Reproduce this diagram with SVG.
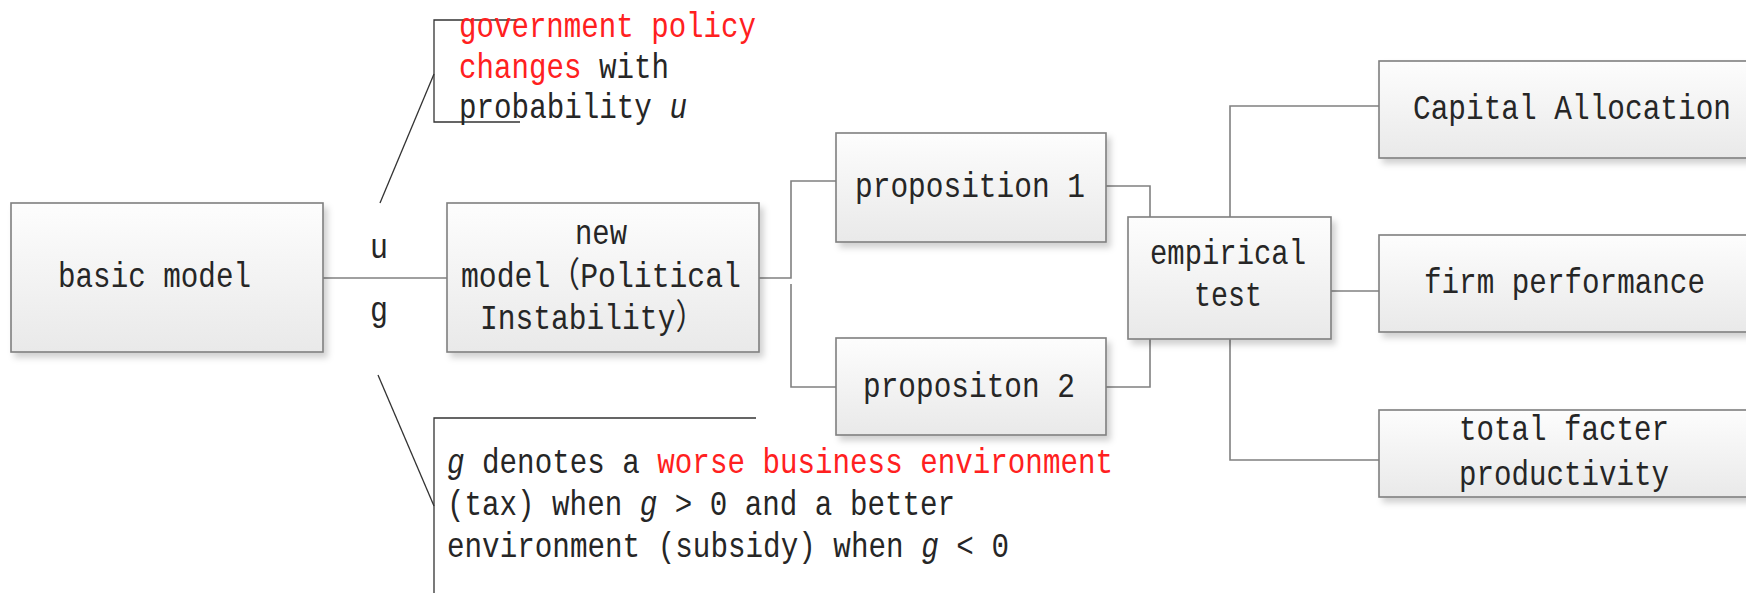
<svg xmlns="http://www.w3.org/2000/svg" width="1746" height="593" viewBox="0 0 1746 593">
<defs>
<linearGradient id="bg" x1="0" y1="0" x2="0" y2="1">
<stop offset="0" stop-color="#fdfdfd"/>
<stop offset="1" stop-color="#e9e9e9"/>
</linearGradient>
<filter id="sh" x="-10%" y="-10%" width="130%" height="140%">
<feDropShadow dx="4" dy="5" stdDeviation="3" flood-color="#000" flood-opacity="0.18"/>
</filter>
</defs>
<style>
.box{fill:url(#bg);stroke:#7f7f7f;stroke-width:1.6;filter:url(#sh)}
.t{font-family:"Liberation Mono","Noto Sans CJK SC",monospace;font-size:35px;fill:#262626}
.c{fill:none;stroke:#808080;stroke-width:1.6}
.co{fill:none;stroke:#333;stroke-width:1.3}
.red{fill:#ff2020}
.it{font-style:italic}
</style>
<rect width="1746" height="593" fill="#fff"/>
<g id="connectors">
<path class="c" d="M323,278 H447"/>
<path class="c" d="M759,278 H791 V181 H836"/>
<path class="c" d="M791,284 V387 H836"/>
<path class="c" d="M1106,186 H1150 V217"/>
<path class="c" d="M1106,387 H1150 V339"/>
<path class="c" d="M1230,217 V106 H1379"/>
<path class="c" d="M1331,291 H1379"/>
<path class="c" d="M1230,339 V460 H1379"/>
</g>
<g id="labels">
<text class="t" x="370" y="258" textLength="18" lengthAdjust="spacingAndGlyphs">u</text>
<text class="t" x="370" y="321" textLength="18" lengthAdjust="spacingAndGlyphs">g</text>
</g>
<g id="callout-top">
<path class="co" d="M518,20 H434 V122 H520"/>
<path class="co" d="M434,74 L380,203"/>
<text class="t red" x="459" y="37" textLength="297" lengthAdjust="spacingAndGlyphs">government policy</text>
<text class="t" x="459" y="78" textLength="210" lengthAdjust="spacingAndGlyphs"><tspan class="red">changes</tspan> with</text>
<text class="t" x="459" y="118" textLength="228" lengthAdjust="spacingAndGlyphs">probability <tspan class="it">u</tspan></text>
</g>
<g id="callout-bottom">
<path class="co" d="M756,418 H434 V593"/>
<path class="co" d="M378,375 L434,506"/>
<text class="t" x="447" y="473" textLength="666" lengthAdjust="spacingAndGlyphs"><tspan class="it">g</tspan> denotes a <tspan class="red">worse business environment</tspan></text>
<text class="t" x="447" y="515" textLength="508" lengthAdjust="spacingAndGlyphs">(tax) when <tspan class="it">g</tspan> &gt; 0 and a better</text>
<text class="t" x="447" y="557" textLength="562" lengthAdjust="spacingAndGlyphs">environment (subsidy) when <tspan class="it">g</tspan> &lt; 0</text>
</g>
<g id="basic-model">
<rect class="box" x="11" y="203" width="312" height="149"/>
<text class="t" x="58" y="287" textLength="193" lengthAdjust="spacingAndGlyphs">basic model</text>
</g>
<g id="new-model">
<rect class="box" x="447" y="203" width="312" height="149"/>
<text class="t" x="575" y="244" textLength="52" lengthAdjust="spacingAndGlyphs">new</text>
<text class="t" x="461" y="287" textLength="280" lengthAdjust="spacingAndGlyphs">model（Political</text>
<text class="t" x="480" y="329" textLength="225" lengthAdjust="spacingAndGlyphs">Instability）</text>
</g>
<g id="proposition-1">
<rect class="box" x="836" y="133" width="270" height="109"/>
<text class="t" x="855" y="197" textLength="230" lengthAdjust="spacingAndGlyphs">proposition 1</text>
</g>
<g id="proposition-2">
<rect class="box" x="836" y="338" width="270" height="97"/>
<text class="t" x="863" y="397" textLength="212" lengthAdjust="spacingAndGlyphs">propositon 2</text>
</g>
<g id="empirical-test">
<rect class="box" x="1128" y="217" width="203" height="122"/>
<text class="t" x="1150" y="264" textLength="156" lengthAdjust="spacingAndGlyphs">empirical</text>
<text class="t" x="1194" y="306" textLength="68" lengthAdjust="spacingAndGlyphs">test</text>
</g>
<g id="capital-allocation">
<rect class="box" x="1379" y="61" width="390" height="97"/>
<text class="t" x="1413" y="119" textLength="318" lengthAdjust="spacingAndGlyphs">Capital Allocation</text>
</g>
<g id="firm-performance">
<rect class="box" x="1379" y="235" width="390" height="97"/>
<text class="t" x="1424" y="293" textLength="281" lengthAdjust="spacingAndGlyphs">firm performance</text>
</g>
<g id="tfp">
<rect class="box" x="1379" y="410" width="390" height="87"/>
<text class="t" x="1459" y="440" textLength="210" lengthAdjust="spacingAndGlyphs">total facter</text>
<text class="t" x="1459" y="485" textLength="210" lengthAdjust="spacingAndGlyphs">productivity</text>
</g>
</svg>
